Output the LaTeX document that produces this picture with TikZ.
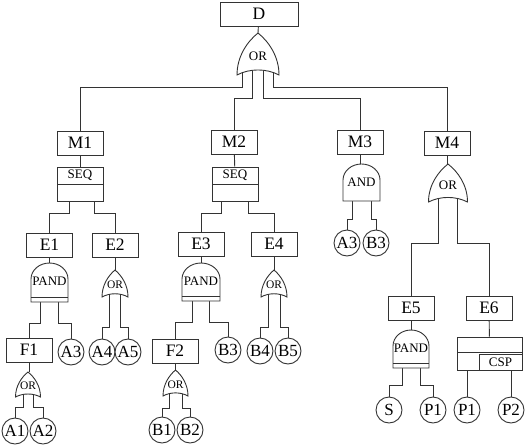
\documentclass[tikz,border=0pt]{standalone}
\usepackage{fontspec}
\setmainfont{Liberation Serif}
\pgfdeclarelayer{bg}
\pgfsetlayers{bg,main}
\tikzset{
  x=1pt, y=-1pt,
  ln/.style={line width=0.9pt, draw=black!80},
  box/.style={ln, fill=white, rectangle, minimum width=46pt, minimum height=24pt, inner sep=0pt, font=\fontsize{17.5}{17.5}\selectfont},
  ev/.style={ln, fill=white, circle, minimum size=26pt, inner sep=0pt, font=\fontsize{17}{17}\selectfont},
  sm/.style={font=\fontsize{13}{13}\selectfont},
  xs/.style={font=\fontsize{11.5}{11.5}\selectfont},
  conn/.style={ln},
  gatel/.style={ln, fill=white},
  pics/orgate/.style n args={4}{code={
    \path[gatel] (0,0) .. controls (-0.25*#1,0.2*#2) and (-0.5*#1,0.55*#2) .. (-0.5*#1,#2)
      .. controls (-0.2*#1,0.84*#2) and (0.2*#1,0.84*#2) .. (0.5*#1,#2)
      .. controls (0.5*#1,0.55*#2) and (0.25*#1,0.2*#2) .. cycle;
    \node[inner sep=0pt] (-lab) at (0,0.55*#2) {#4};
    \coordinate (-t) at (0,0);
    \coordinate (-l) at (-#3,0.7*#2);
    \coordinate (-r) at (#3,0.7*#2);
  }},
  pics/andgate/.style n args={5}{code={
    \path[gatel] (-0.5*#1,#2) -- (-0.5*#1,#3) .. controls (-0.5*#1,0.448*#3) and (-0.276*#1,0) .. (0,0)
      .. controls (0.276*#1,0) and (0.5*#1,0.448*#3) .. (0.5*#1,#3) -- (0.5*#1,#2) -- cycle;
    \node[inner sep=0pt] (-lab) at (0,0.5*#2) {#5};
    \coordinate (-t) at (0,0);
    \coordinate (-l) at (-#4,0.8*#2);
    \coordinate (-r) at (#4,0.8*#2);
  }},
  pics/pandgate/.style n args={5}{code={
    \path[gatel] (-0.5*#1,#2) -- (-0.5*#1,#3) .. controls (-0.5*#1,0.448*#3) and (-0.276*#1,0) .. (0,0)
      .. controls (0.276*#1,0) and (0.5*#1,0.448*#3) .. (0.5*#1,#3) -- (0.5*#1,#2) -- cycle;
    \draw[ln] (-0.5*#1,#2-4.5) -- (0.5*#1,#2-4.5);
    \node[inner sep=0pt] (-lab) at (0,0.47*#2) {#5};
    \coordinate (-t) at (0,0);
    \coordinate (-l) at (-#4,0.8*#2);
    \coordinate (-r) at (#4,0.8*#2);
  }},
}
\begin{document}
\begin{tikzpicture}
\useasboundingbox (0,0) rectangle (526,447);
% top event
\node[box, minimum width=78pt] (D) at (259,14) {D};
\pic[sm] (gD) at (258,33) {orgate={42}{42}{15.5}{OR}};
\path (gD-t) ++(-5.5,29.4) coordinate (gD-il) ++(11,0) coordinate (gD-ir);
% level M
\node[box] (M1) at (80,143) {M1};
\node[box] (M2) at (234,142) {M2};
\node[box] (M3) at (360,142) {M3};
\node[box] (M4) at (447,143) {M4};
% SEQ gates
\node[box, minimum height=17pt, sm] (S1) at (80,175.5) {SEQ};
\node[box, minimum height=17pt] (S1b) at (80,192.5) {};
\node[box, minimum height=17pt, sm] (S2) at (235,175.5) {SEQ};
\node[box, minimum height=17pt] (S2b) at (235,192.5) {};
% E level
\node[box] (E1) at (49.5,245) {E1};
\node[box] (E2) at (115,245) {E2};
\node[box] (E3) at (201,244) {E3};
\node[box] (E4) at (274,244) {E4};
\pic[sm] (gE1) at (49.5,263) {pandgate={37}{39}{16}{9}{PAND}};
\pic[xs] (gE2) at (115,270) {orgate={26}{27}{5.5}{OR}};
\pic[sm] (gE3) at (201,263) {pandgate={38}{38}{16}{8.5}{PAND}};
\pic[xs] (gE4) at (274,270) {orgate={26}{27}{6}{OR}};
% F level
\node[box] (F1) at (29,350) {F1};
\node[ev] (A3a) at (71,352) {A3};
\node[ev] (A4) at (102,352) {A4};
\node[ev] (A5) at (128,352) {A5};
\node[box] (F2) at (175,351) {F2};
\node[ev] (B3a) at (228,350) {B3};
\node[ev] (B4) at (260,351) {B4};
\node[ev] (B5) at (288,351) {B5};
\pic[xs] (gF1) at (28,372) {orgate={25}{25}{5}{OR}};
\pic[xs] (gF2) at (175.5,370) {orgate={25}{26}{6.5}{OR}};
\node[ev] (A1) at (15,431) {A1};
\node[ev] (A2) at (43,431) {A2};
\node[ev] (B1) at (162,430) {B1};
\node[ev] (B2) at (190,430) {B2};
% M3 branch
\pic[sm] (gM3) at (361.5,164) {andgate={37}{37}{16}{9.5}{AND}};
\node[ev] (A3b) at (347,243) {A3};
\node[ev] (B3b) at (376,243) {B3};
% M4 branch
\pic[sm] (gM4) at (448,164) {orgate={39}{38}{9.5}{OR}};
\node[box] (E5) at (411,308) {E5};
\node[box] (E6) at (489,308) {E6};
\pic[sm] (gE5) at (411,330) {pandgate={36}{38}{16}{9}{PAND}};
\node[ev] (S) at (389,410) {S};
\node[ev] (P1a) at (433,410) {P1};
\node[box, minimum width=65pt, minimum height=15pt] (C1) at (489.5,344.5) {};
\node[box, minimum width=65pt, minimum height=18pt] (C2) at (489.5,361) {};
\node[box, minimum width=43pt, minimum height=16pt, sm] (C3) at (500.5,362) {CSP};
\node[ev] (P1b) at (467,410) {P1};
\node[ev] (P2) at (511,410) {P2};
% connectors
\begin{pgfonlayer}{bg}
\draw[conn] (D) -- (gD-t);
\draw[conn] (gD-l) |- (M1.north |- 0,87) -- (M1.north);
\draw[conn] (gD-il) |- (M2.north |- 0,98) -- (M2.north);
\draw[conn] (gD-ir) |- (M3.north |- 0,98) -- (M3.north);
\draw[conn] (gD-r) |- (M4.north |- 0,87) -- (M4.north);
\draw[conn] (M1) -- (S1);
\draw[conn] (M2) -- (S2);
\draw[conn] ([xshift=-11pt]S1b.south) |- (E1.north |- 0,213) -- (E1.north);
\draw[conn] ([xshift=14pt]S1b.south) |- (E2.north |- 0,213) -- (E2.north);
\draw[conn] ([xshift=-13.5pt]S2b.south) |- (E3.north |- 0,213) -- (E3.north);
\draw[conn] ([xshift=13.5pt]S2b.south) |- (E4.north |- 0,213) -- (E4.north);
\draw[conn] (E1) -- (gE1-t);
\draw[conn] (E2) -- (gE2-t);
\draw[conn] (E3) -- (gE3-t);
\draw[conn] (E4) -- (gE4-t);
\draw[conn] (gE1-l) |- (F1.north |- 0,323) -- (F1.north);
\draw[conn] (gE1-r) |- (A3a.north |- 0,323) -- (A3a.north);
\draw[conn] (gE2-l) |- (A4.north |- 0,327) -- (A4.north);
\draw[conn] (gE2-r) |- (A5.north |- 0,327) -- (A5.north);
\draw[conn] (gE3-l) |- (F2.north |- 0,322) -- (F2.north);
\draw[conn] (gE3-r) |- (B3a.north |- 0,322) -- (B3a.north);
\draw[conn] (gE4-l) |- (B4.north |- 0,327) -- (B4.north);
\draw[conn] (gE4-r) |- (B5.north |- 0,327) -- (B5.north);
\draw[conn] (F1) -- (F1 |- gF1-t);
\draw[conn] (F2) -- (F2 |- gF2-t);
\draw[conn] (gF1-l) |- (A1.north |- 0,407) -- (A1.north);
\draw[conn] (gF1-r) |- (A2.north |- 0,407) -- (A2.north);
\draw[conn] (gF2-l) |- (B1.north |- 0,408) -- (B1.north);
\draw[conn] (gF2-r) |- (B2.north |- 0,408) -- (B2.north);
\draw[conn] (M3) -- (M3 |- gM3-t);
\draw[conn] (gM3-l) |- (A3b.north |- 0,219) -- (A3b.north);
\draw[conn] (gM3-r) |- (B3b.north |- 0,219) -- (B3b.north);
\draw[conn] (M4) -- (M4 |- gM4-t);
\draw[conn] (gM4-l) |- (E5.north |- 0,243) -- (E5.north);
\draw[conn] (gM4-r) |- (E6.north |- 0,243) -- (E6.north);
\draw[conn] (E5) -- (gE5-t);
\draw[conn] (gE5-l) |- (S.north |- 0,385) -- (S.north);
\draw[conn] (gE5-r) |- (P1a.north |- 0,385) -- (P1a.north);
\draw[conn] (E6) -- (C1);
\draw[conn] (C2.south -| P1b) -- (P1b.north);
\draw[conn] (C2.south -| P2) -- (P2.north);
\end{pgfonlayer}
\end{tikzpicture}
\end{document}
